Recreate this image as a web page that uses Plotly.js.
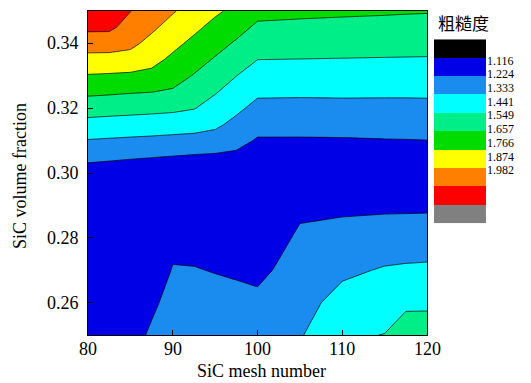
<!DOCTYPE html>
<html><head><meta charset="utf-8">
<script src="https://cdn.plot.ly/plotly-3.0.1.min.js"></script>
<style>html,body{margin:0;padding:0;background:#fff;}#chart{width:531px;height:383px;}</style>
</head><body><div id="chart"></div>
<script>
// ---- data ----
const meshNumbers = [80, 82.5, 85, 87.5, 90, 92.5, 95, 97.5, 100, 105, 110, 115, 117.5, 120];
const volumeFractions = [0.25, 0.26, 0.27, 0.28, 0.29, 0.30, 0.305, 0.31, 0.315, 0.32, 0.325, 0.33, 0.335, 0.34, 0.345, 0.35];
const roughness = [
  [1.165, 1.170, 1.178, 1.242, 1.300, 1.300, 1.300, 1.300, 1.290, 1.323, 1.427, 1.443, 1.494, 1.494],
  [1.165, 1.168, 1.170, 1.202, 1.264, 1.270, 1.260, 1.250, 1.245, 1.294, 1.370, 1.392, 1.421, 1.422],
  [1.168, 1.165, 1.165, 1.180, 1.228, 1.229, 1.220, 1.213, 1.202, 1.265, 1.313, 1.341, 1.347, 1.350],
  [1.170, 1.165, 1.162, 1.171, 1.207, 1.190, 1.192, 1.182, 1.172, 1.237, 1.259, 1.274, 1.278, 1.280],
  [1.175, 1.170, 1.165, 1.165, 1.169, 1.162, 1.163, 1.153, 1.147, 1.208, 1.205, 1.206, 1.206, 1.207],
  [1.185, 1.178, 1.170, 1.165, 1.159, 1.151, 1.146, 1.150, 1.158, 1.165, 1.164, 1.164, 1.166, 1.169],
  [1.247, 1.241, 1.234, 1.228, 1.221, 1.213, 1.207, 1.203, 1.183, 1.183, 1.179, 1.183, 1.184, 1.184],
  [1.327, 1.321, 1.315, 1.310, 1.303, 1.296, 1.290, 1.256, 1.215, 1.215, 1.216, 1.220, 1.221, 1.223],
  [1.406, 1.400, 1.395, 1.389, 1.383, 1.377, 1.352, 1.306, 1.258, 1.257, 1.260, 1.262, 1.263, 1.264],
  [1.488, 1.481, 1.475, 1.469, 1.462, 1.445, 1.401, 1.353, 1.304, 1.303, 1.305, 1.305, 1.305, 1.306],
  [1.570, 1.564, 1.556, 1.550, 1.537, 1.497, 1.448, 1.397, 1.350, 1.348, 1.349, 1.348, 1.348, 1.349],
  [1.650, 1.645, 1.638, 1.630, 1.591, 1.543, 1.494, 1.442, 1.395, 1.393, 1.393, 1.392, 1.391, 1.391],
  [1.731, 1.729, 1.727, 1.688, 1.637, 1.589, 1.540, 1.490, 1.441, 1.439, 1.437, 1.435, 1.434, 1.433],
  [1.814, 1.814, 1.789, 1.736, 1.683, 1.634, 1.585, 1.537, 1.487, 1.483, 1.480, 1.477, 1.476, 1.475],
  [1.897, 1.896, 1.833, 1.784, 1.729, 1.679, 1.629, 1.584, 1.532, 1.526, 1.522, 1.519, 1.517, 1.515],
  [1.967, 1.957, 1.876, 1.832, 1.774, 1.724, 1.674, 1.632, 1.578, 1.571, 1.565, 1.560, 1.557, 1.555]
];
const levelLabels = ['1.116', '1.224', '1.333', '1.441', '1.549', '1.657', '1.766', '1.874', '1.982'];
const xTicks = [80, 90, 100, 110, 120];
const yTicks = [0.26, 0.28, 0.30, 0.32, 0.34];
const xTitle = 'SiC mesh number';
const yTitle = 'SiC volume fraction';
const colorbarTitle = '粗糙度';

// ---- styles ----
const bandColors = ['#000000', '#0000e6', '#1a8cf0', '#00ffff', '#00ee88', '#00dc00', '#ffff00', '#ff8000', '#ff0000', '#808080'];
const nb = bandColors.length;
const scale = [];
bandColors.forEach(function (c, k) {
  scale.push([Math.max(0, (k - 0.5) / (nb - 1)), c]);
  scale.push([Math.min(1, (k + 0.5) / (nb - 1)), c]);
});

const start = parseFloat(levelLabels[0]);
const end = parseFloat(levelLabels[levelLabels.length - 1]);
const size = (end - start) / (levelLabels.length - 1);

const contourTrace = {
  type: 'contour', x: meshNumbers, y: volumeFractions, z: roughness,
  autocontour: false,
  contours: {start: start, end: end + 1e-6, size: size, coloring: 'fill', showlines: true},
  line: {color: '#000', width: 0.7, smoothing: 0},
  colorscale: scale, showscale: false, hoverinfo: 'skip'
};

const bandIdx = bandColors.map(function (_, k) { return k; });
const legendTrace = {
  type: 'heatmap', xaxis: 'x2', yaxis: 'y2',
  x: [0], y: bandIdx, z: bandIdx.map(function (k) { return [k]; }),
  colorscale: scale, zmin: 0, zmax: nb - 1, showscale: false, hoverinfo: 'skip'
};

const labelPos = levelLabels.map(function (_, i) { return 0.65 + i * 0.745; });

const serif = 'Liberation Serif, Times New Roman, serif';
const tickFont = {family: serif, size: 18, color: '#000'};

const annotations = [];
yTicks.forEach(function (v) {
  annotations.push({xref: 'paper', yref: 'y', x: 0, y: v, xanchor: 'right', yanchor: 'middle',
    xshift: -7, text: v.toFixed(2), showarrow: false, font: tickFont});
});
xTicks.forEach(function (v) {
  annotations.push({xref: 'x', yref: 'paper', x: v, y: 0, xanchor: 'center', yanchor: 'middle',
    yshift: -14, text: String(v), showarrow: false, font: tickFont});
});
annotations.push({xref: 'paper', yref: 'paper', x: (261 - 88) / 433, y: 0, xanchor: 'center', yanchor: 'middle',
  yshift: -36, text: xTitle, showarrow: false, font: tickFont});
annotations.push({xref: 'paper', yref: 'paper', x: (20 - 88) / 433, y: (335 - 176) / 324, xanchor: 'center', yanchor: 'middle',
  textangle: -90, text: yTitle, showarrow: false, font: tickFont});
annotations.push({xref: 'paper', yref: 'paper', x: (463 - 88) / 433, y: (335 - 22.5) / 324,
  xanchor: 'center', yanchor: 'middle', showarrow: false, text: colorbarTitle,
  font: {family: 'Noto Sans CJK SC', size: 17, color: '#000'}});

const layout = {
  width: 531, height: 383,
  margin: {l: 88, r: 10, t: 11, b: 48},
  paper_bgcolor: '#fff', plot_bgcolor: '#fff',
  font: {family: serif, size: 18, color: '#000'},
  showlegend: false,
  xaxis: {
    domain: [0, 0.7829], range: [80, 120], tickvals: xTicks, showticklabels: false,
    ticks: 'inside', ticklen: 5, tickcolor: '#000', tickwidth: 1,
    showline: true, linecolor: '#000', linewidth: 1, mirror: true,
    showgrid: false, zeroline: false
  },
  yaxis: {
    domain: [0, 1], range: [0.25, 0.35], tickvals: yTicks, showticklabels: false,
    ticks: 'inside', ticklen: 5, tickcolor: '#000', tickwidth: 1,
    showline: true, linecolor: '#000', linewidth: 1, mirror: true,
    showgrid: false, zeroline: false
  },
  xaxis2: {domain: [0.799, 0.9192], anchor: 'y2', range: [-0.5, 0.5], visible: false, fixedrange: true},
  yaxis2: {
    domain: [0.3448, 0.9127], anchor: 'x2', side: 'right',
    range: [nb - 0.5, -0.5], tickvals: labelPos, ticktext: levelLabels,
    ticks: '', showgrid: false, zeroline: false, showline: false,
    tickfont: {family: serif, size: 12, color: '#000'}
  },
  annotations: annotations
};

Plotly.newPlot('chart', [contourTrace, legendTrace], layout, {staticPlot: true, displayModeBar: false});
</script>
</body></html>
